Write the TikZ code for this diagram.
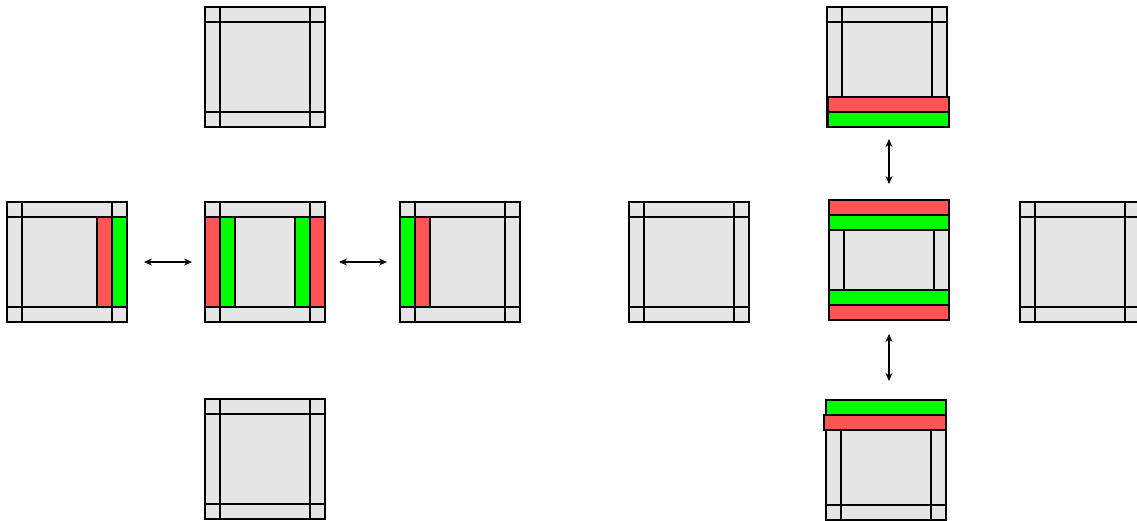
\documentclass[tikz,border=0pt]{standalone}
\usetikzlibrary{arrows.meta,calc}
\definecolor{tilegray}{RGB}{229,229,229}
\definecolor{sred}{RGB}{255,85,85}
\definecolor{sgreen}{RGB}{0,255,0}
\tikzset{
  tile/.style={draw=black, fill=tilegray, line width=2pt, minimum size=120pt, inner sep=0pt,
    path picture={
      \draw[line width=2pt]
        ([xshift=15pt]path picture bounding box.north west) -- ([xshift=15pt]path picture bounding box.south west)
        ([xshift=-15pt]path picture bounding box.north east) -- ([xshift=-15pt]path picture bounding box.south east)
        ([yshift=-15pt]path picture bounding box.north west) -- ([yshift=-15pt]path picture bounding box.north east)
        ([yshift=15pt]path picture bounding box.south west) -- ([yshift=15pt]path picture bounding box.south east);
    }},
  redstrip/.style={draw=black, fill=sred, line width=2pt},
  greenstrip/.style={draw=black, fill=sgreen, line width=2pt},
  arr/.style={{Stealth[length=8pt,width=7pt]}-{Stealth[length=8pt,width=7pt]}, line width=1.1pt}
}
\begin{document}
\begin{tikzpicture}[x=1pt,y=-1pt]
\useasboundingbox (0,0) rectangle (1137,520);
\clip (0,0) rectangle (1137,520);
% left cross
\node[tile] (Lt) at (265,67) {};
\node[tile] (Ll) at (67,262) {};
\node[tile] (Lm) at (265,262) {};
\node[tile] (Lr) at (460,262) {};
\node[tile] (Lb) at (265,459) {};
% strips left cross
\draw[redstrip] (97,217) rectangle (112,307);
\draw[greenstrip] (112,217) rectangle (127,307);
\draw[redstrip] (205,217) rectangle (220,307);
\draw[greenstrip] (220,217) rectangle (235,307);
\draw[greenstrip] (295,217) rectangle (310,307);
\draw[redstrip] (310,217) rectangle (325,307);
\draw[greenstrip] (400,217) rectangle (415,307);
\draw[redstrip] (415,217) rectangle (430,307);
\draw[arr] ([xshift=16pt]Ll.east) -- ([xshift=-12pt]Lm.west);
\draw[arr] ([xshift=13pt]Lm.east) -- ([xshift=-12pt]Lr.west);
% right cross
\node[tile] (Rl) at (689,262) {};
\node[tile] (Rt) at (887,67) {};
\node[tile] (Rm) at (889,260) {};
\node[tile] (Rr) at (1080,262) {};
\node[tile] (Rb) at (886,460) {};
\draw[redstrip] (828,97) rectangle (949,112);
\draw[greenstrip] (828,112) rectangle (949,127);
\draw[redstrip] (829,200) rectangle (949,215);
\draw[greenstrip] (829,215) rectangle (949,230);
\draw[greenstrip] (829,290) rectangle (949,305);
\draw[redstrip] (829,305) rectangle (949,320);
\draw[greenstrip] (826,400) rectangle (946,415);
\draw[redstrip] (824,415) rectangle (946,430);
\draw[arr] ($(Rt.south -| Rm.center)+(0,11)$) -- ([yshift=15pt]Rm.north);
\draw[arr] ([yshift=-13pt]Rm.south) -- ($(Rb.north -| Rm.center)+(0,-18)$);
\end{tikzpicture}
\end{document}
